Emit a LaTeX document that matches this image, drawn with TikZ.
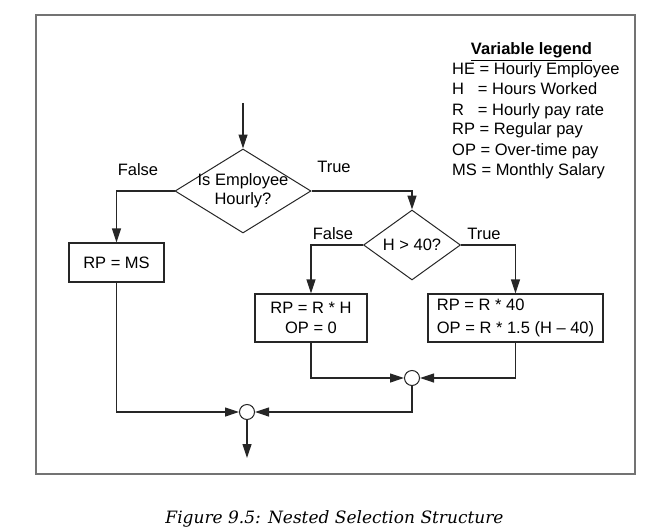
\documentclass[tikz,border=0pt]{standalone}
\usepackage{fontspec}
\setmainfont{Liberation Sans}
\newfontfamily\capfont{DejaVu Serif}
\usetikzlibrary{shapes.geometric,arrows.meta}

\begin{document}
\begin{tikzpicture}[
			x=1pt, y=-1pt,
			font=\fontsize{16.5}{20}\selectfont,
			line/.style={draw=black!85, line width=1.2pt},
			arr/.style={line, -{Triangle[length=14pt,width=9pt]}},
			decision/.style={diamond, draw=black!85, line width=1pt, inner sep=0pt},
			process/.style={rectangle, draw=black!85, line width=1.2pt, inner sep=0pt},
			joint/.style={circle, draw=black!85, line width=1pt, fill=white, minimum size=15pt, inner sep=0pt}
		]
		\useasboundingbox (0,0) rectangle (655,532);
		\draw[black!55, line width=2pt] (35.5,14.7) rectangle (635,474);

		% legend
		\node[anchor=base, font=\fontsize{16.5}{20}\selectfont\bfseries] (legtitle) at (531.5,55) {\underline{Variable legend}};
		\foreach \txt [count=\i] in {HE = Hourly Employee, H\ \ \ = Hours Worked, R\ \ \ = Hourly pay rate, RP = Regular pay, OP = Over-time pay, MS = Monthly Salary}
			\node[anchor=base west, inner sep=0pt] (leg\i) at (452,55+20*\i) {\txt};

		% decisions
		\coordinate (start) at (243,103);
		\node[decision, minimum width=136pt, minimum height=84pt] (hourly) at (243,191) {};
		\node[align=center] (hourlytxt) at (243,190.5) {Is Employee\\[-1pt]Hourly?};
		\node[decision, minimum width=97pt, minimum height=58pt] (over) at (412,245) {H > 40?};

		% processes
		\node[process, minimum width=95pt, minimum height=39pt] (msbox) at (116.5,262.5) {RP = MS};
		\node[process, minimum width=112pt, minimum height=48pt, align=center] (rhbox) at (311,318) {RP = R * H\\OP = 0};
		\node[process, minimum width=175pt, minimum height=48pt, inner xsep=5pt, align=left] (r40box) at (515.5,318) {RP = R * 40\\[3pt]OP = R * 1.5 (H – 40)};

		% joins
		\node[joint] (join1) at (412,378) {};
		\node[joint] (join2) at (247,412) {};
		\coordinate (end) at (247,458);

		% branch labels
		\node (false1) at (138,170) {False};
		\node (true1) at (334,167) {True};
		\node (false2) at (333,234) {False};
		\node (true2) at (484,234) {True};

		\draw[arr] (start) -- (hourly.north);
		\draw[arr] (hourly.west) -| (msbox.north);
		\draw[arr] (hourly.east) -| (over.north);
		\draw[arr] (over.west) -| (rhbox.north);
		\draw[arr] (over.east) -| (r40box.north);
		\draw[arr] (rhbox.south) |- (join1.west);
		\draw[arr] (r40box.south) |- (join1.east);
		\draw[arr] (msbox.south) |- (join2.west);
		\draw[arr] (join1.south) |- (join2.east);
		\draw[arr] (join2.south) -- (end);

		\node[anchor=base, font=\capfont\itshape\fontsize{17}{20}\selectfont] (caption) at (334.5,523) {Figure 9.5: Nested Selection Structure};
	\end{tikzpicture}
\end{document}
